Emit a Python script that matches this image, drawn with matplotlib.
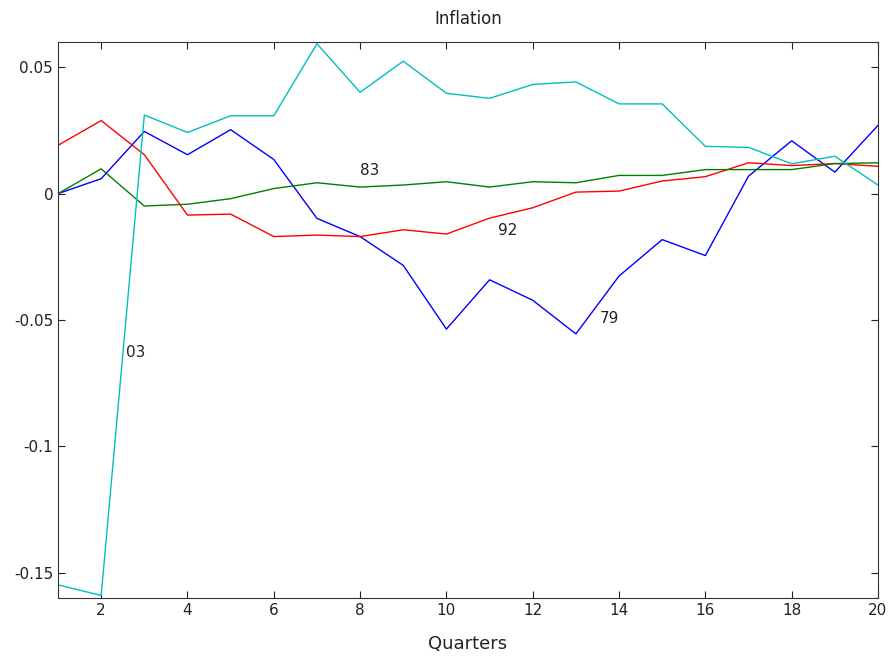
import numpy as np
import matplotlib.pyplot as plt

quarters = np.arange(1, 21)

# impulse responses of inflation, one per episode
inf_79 = [0.0, 0.0059, 0.0246, 0.0154, 0.0253, 0.0135, -0.0098, -0.0170, -0.0284, -0.0536,
          -0.0341, -0.0422, -0.0555, -0.0326, -0.0182, -0.0245, 0.0069, 0.0209, 0.0085, 0.0270]
inf_92 = [0.0191, 0.0289, 0.0154, -0.0085, -0.0081, -0.0170, -0.0164, -0.0170, -0.0143, -0.0160,
          -0.0097, -0.0056, 0.0006, 0.0010, 0.0050, 0.0067, 0.0122, 0.0111, 0.0119, 0.0108]
inf_83 = [0.0, 0.0098, -0.0049, -0.0042, -0.0020, 0.0020, 0.0043, 0.0026, 0.0034, 0.0047,
          0.0026, 0.0047, 0.0043, 0.0072, 0.0072, 0.0095, 0.0095, 0.0095, 0.0119, 0.0122]
inf_03 = [-0.1548, -0.1590, 0.0311, 0.0242, 0.0308, 0.0308, 0.0593, 0.0401, 0.0524, 0.0397,
          0.0377, 0.0432, 0.0442, 0.0355, 0.0355, 0.0187, 0.0183, 0.0118, 0.0148, 0.0034]

labels = ["79", "92", "83", "03"]
label_pos = [(13.56, -0.0494), (11.2, -0.0145), (8.0, 0.0092), (2.58, -0.063)]

fig = plt.figure(figsize=(8.91, 6.58), dpi=100)
ax = fig.add_axes([0.0651, 0.0912, 0.9203, 0.8450])

ax.plot(quarters, inf_79, color=(0, 0, 1), lw=1.0)
ax.plot(quarters, inf_92, color=(1, 0, 0), lw=1.0)
ax.plot(quarters, inf_83, color=(0, 0.5, 0), lw=1.0)
ax.plot(quarters, inf_03, color=(0, 0.75, 0.75), lw=1.0)

for lab, (x, y) in zip(labels, label_pos):
    ax.text(x, y, lab, ha="left", va="center", fontsize=11, color="#222222")

ax.set_xlim(1, 20)
ax.set_ylim(-0.16, 0.06)
ax.set_xticks(np.arange(2, 21, 2))
ax.set_yticks([-0.15, -0.1, -0.05, 0, 0.05])
ax.set_yticklabels(["-0.15", "-0.1", "-0.05", "0", "0.05"])
ax.tick_params(direction="in", top=True, right=True, length=5, width=0.8,
               labelsize=11, colors="#222222")
for s in ax.spines.values():
    s.set_color("#333333")
    s.set_linewidth(0.8)

ax.set_title("Inflation", fontsize=12, color="#222222", pad=13)
ax.set_xlabel("Quarters", fontsize=13, color="#222222", labelpad=12)

fig.savefig("out.png", dpi=100)
